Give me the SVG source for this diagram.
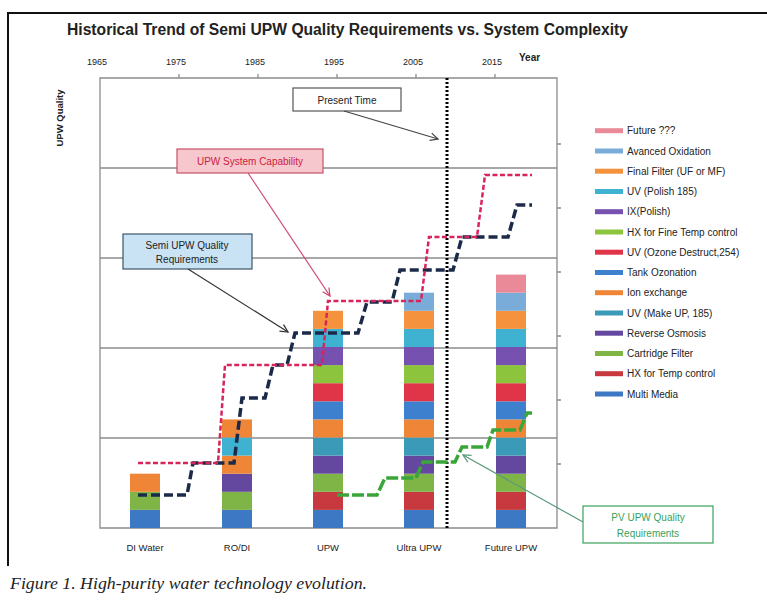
<svg xmlns="http://www.w3.org/2000/svg" width="767" height="602" viewBox="0 0 767 602">
<defs>
<style>
text{font-family:"Liberation Sans",Arial,sans-serif;fill:#222}
.yr{font-size:9px;text-anchor:middle}
.cat{font-size:9.5px;text-anchor:middle}
.lg{font-size:10px;dominant-baseline:central}
.grid{stroke:#8c8c8c;stroke-width:1.3;fill:none}
.c0{fill:#3c78c3}.c1{fill:#c8393f}.c2{fill:#7fb446}.c3{fill:#6448a0}.c4{fill:#3a9ab8}.c5{fill:#ef8637}.c6{fill:#3d80cd}.c7{fill:#e03448}.c8{fill:#8cc43e}.c9{fill:#7651b0}.c10{fill:#3eb2d0}.c11{fill:#f5923e}.c12{fill:#79acd8}.c13{fill:#ea8a98}
</style>
<marker id="ahG" viewBox="0 0 10 10" refX="9" refY="5" markerWidth="8" markerHeight="8" orient="auto"><path d="M1,1 L9,5 L1,9" fill="none" stroke="#444" stroke-width="1.3"/></marker>
<marker id="ahR" viewBox="0 0 10 10" refX="9" refY="5" markerWidth="8" markerHeight="8" orient="auto"><path d="M1,1 L9,5 L1,9" fill="none" stroke="#d04a70" stroke-width="1.3"/></marker>
<marker id="ahD" viewBox="0 0 10 10" refX="9" refY="5" markerWidth="8" markerHeight="8" orient="auto"><path d="M1,1 L9,5 L1,9" fill="none" stroke="#333" stroke-width="1.3"/></marker>
<marker id="ahV" viewBox="0 0 10 10" refX="9" refY="5" markerWidth="8" markerHeight="8" orient="auto"><path d="M1,1 L9,5 L1,9" fill="none" stroke="#5a9a7a" stroke-width="1.3"/></marker>
</defs>
<rect width="767" height="602" fill="#fff"/>
<!-- outer frame -->
<path d="M8,566 V13 H767" fill="none" stroke="#111" stroke-width="2"/>
<text x="67" y="35" font-size="16" font-weight="bold" textLength="561" lengthAdjust="spacingAndGlyphs">Historical Trend of  Semi UPW  Quality  Requirements vs. System Complexity</text>
<!-- axes -->
<g id="axes">
<text class="yr" x="97" y="65">1965</text>
<text class="yr" x="176" y="65">1975</text>
<text class="yr" x="255" y="65">1985</text>
<text class="yr" x="334" y="65">1995</text>
<text class="yr" x="413" y="65">2005</text>
<text class="yr" x="492" y="65">2015</text>
<text x="519" y="61" font-size="10" font-weight="bold">Year</text>
<text transform="translate(63,118) rotate(-90)" font-size="9.5" font-weight="bold" text-anchor="middle">UPW Quality</text>
<path class="grid" d="M100,78 H557 V528 H100 Z M100,168 H557 M100,258 H557 M100,348 H557 M100,438 H557"/>
<path class="grid" d="M179,74 V78 M258,74 V78 M337,74 V78 M416,74 V78 M495,74 V78 M557,464 H561 M557,400 H561 M557,336 H561 M557,272 H561 M557,208 H561 M557,144 H561"/>
</g>
<!-- bars -->
<g id="bar-di-water">
<rect class="c0" x="130" y="509.9" width="30" height="18.1"/>
<rect class="c2" x="130" y="491.8" width="30" height="18.1"/>
<rect class="c5" x="130" y="473.7" width="30" height="18.1"/>
<text class="cat" x="145" y="551">DI Water</text>
</g>
<g id="bar-ro-di">
<rect class="c0" x="222" y="509.9" width="30" height="18.1"/>
<rect class="c2" x="222" y="491.8" width="30" height="18.1"/>
<rect class="c3" x="222" y="473.7" width="30" height="18.1"/>
<rect class="c5" x="222" y="455.6" width="30" height="18.1"/>
<rect class="c10" x="222" y="437.5" width="30" height="18.1"/>
<rect class="c5" x="222" y="419.4" width="30" height="18.1"/>
<text class="cat" x="237" y="551">RO/DI</text>
</g>
<g id="bar-upw">
<rect class="c0" x="313" y="509.9" width="30" height="18.1"/>
<rect class="c1" x="313" y="491.8" width="30" height="18.1"/>
<rect class="c2" x="313" y="473.7" width="30" height="18.1"/>
<rect class="c3" x="313" y="455.6" width="30" height="18.1"/>
<rect class="c4" x="313" y="437.5" width="30" height="18.1"/>
<rect class="c5" x="313" y="419.4" width="30" height="18.1"/>
<rect class="c6" x="313" y="401.3" width="30" height="18.1"/>
<rect class="c7" x="313" y="383.2" width="30" height="18.1"/>
<rect class="c8" x="313" y="365.1" width="30" height="18.1"/>
<rect class="c9" x="313" y="347" width="30" height="18.1"/>
<rect class="c10" x="313" y="328.9" width="30" height="18.1"/>
<rect class="c11" x="313" y="310.8" width="30" height="18.1"/>
<text class="cat" x="328" y="551">UPW</text>
</g>
<g id="bar-ultra-upw">
<rect class="c0" x="404" y="509.9" width="30" height="18.1"/>
<rect class="c1" x="404" y="491.8" width="30" height="18.1"/>
<rect class="c2" x="404" y="473.7" width="30" height="18.1"/>
<rect class="c3" x="404" y="455.6" width="30" height="18.1"/>
<rect class="c4" x="404" y="437.5" width="30" height="18.1"/>
<rect class="c5" x="404" y="419.4" width="30" height="18.1"/>
<rect class="c6" x="404" y="401.3" width="30" height="18.1"/>
<rect class="c7" x="404" y="383.2" width="30" height="18.1"/>
<rect class="c8" x="404" y="365.1" width="30" height="18.1"/>
<rect class="c9" x="404" y="347" width="30" height="18.1"/>
<rect class="c10" x="404" y="328.9" width="30" height="18.1"/>
<rect class="c11" x="404" y="310.8" width="30" height="18.1"/>
<rect class="c12" x="404" y="292.7" width="30" height="18.1"/>
<text class="cat" x="419" y="551">Ultra UPW</text>
</g>
<g id="bar-future-upw">
<rect class="c0" x="496" y="509.9" width="30" height="18.1"/>
<rect class="c1" x="496" y="491.8" width="30" height="18.1"/>
<rect class="c2" x="496" y="473.7" width="30" height="18.1"/>
<rect class="c3" x="496" y="455.6" width="30" height="18.1"/>
<rect class="c4" x="496" y="437.5" width="30" height="18.1"/>
<rect class="c5" x="496" y="419.4" width="30" height="18.1"/>
<rect class="c6" x="496" y="401.3" width="30" height="18.1"/>
<rect class="c7" x="496" y="383.2" width="30" height="18.1"/>
<rect class="c8" x="496" y="365.1" width="30" height="18.1"/>
<rect class="c9" x="496" y="347" width="30" height="18.1"/>
<rect class="c10" x="496" y="328.9" width="30" height="18.1"/>
<rect class="c11" x="496" y="310.8" width="30" height="18.1"/>
<rect class="c12" x="496" y="292.7" width="30" height="18.1"/>
<rect class="c13" x="496" y="274.6" width="30" height="18.1"/>
<text class="cat" x="511" y="551">Future UPW</text>
</g>
<!-- present time line -->
<line id="present-line" x1="447" y1="78" x2="447" y2="528" stroke="#000" stroke-width="3" stroke-dasharray="2 2"/>
<!-- trend lines -->
<g id="trend-lines" fill="none">
<path id="semi-upw-line" d="M138,495 H187 L193,463 H234 L242,398 H265 L273,365 H287 L295,333 H358 L367,302 H392 L400,270 H453 L462,237 H508 L517,205 H532" stroke="#1c2a4a" stroke-width="3.5" stroke-dasharray="9 4"/>
<path id="capability-line" d="M138,463 H218 L225,365 H322 L328,301 H421 L429,237 H477 L485,175 H532" stroke="#d8245a" stroke-width="2.5" stroke-dasharray="5 2.5"/>
<path id="pv-line" d="M337,495 H377 L385,478 H416 L423,462 H455 L462,447 H487 L493,430 H520 L527,413 H532" stroke="#3aa63a" stroke-width="3.5" stroke-dasharray="12 3"/>
</g>
<!-- callout boxes -->
<g id="present-time">
<rect x="293" y="88" width="108" height="23" fill="#fff" stroke="#555" stroke-width="1.2"/>
<text x="347" y="104" font-size="10" text-anchor="middle">Present Time</text>
</g>
<g id="upw-system-capability">
<rect x="177" y="149" width="146" height="24" fill="#f6c8cd" stroke="#c85068" stroke-width="1.2"/>
<text x="250" y="165" font-size="10" text-anchor="middle" style="fill:#d01a40">UPW System Capability</text>
</g>
<g id="semi-upw-quality">
<rect x="123" y="234" width="129" height="35" fill="#c9e2f4" stroke="#3d5567" stroke-width="1.2"/>
<text x="187" y="249" font-size="10" text-anchor="middle">Semi UPW Quality</text>
<text x="187" y="263" font-size="10" text-anchor="middle">Requirements</text>
</g>
<g id="pv-upw-quality">
<rect x="583" y="506" width="130" height="37" fill="#fff" stroke="#3aa15a" stroke-width="1.2"/>
<text x="648" y="521" font-size="10" text-anchor="middle" style="fill:#3aa15a">PV UPW Quality</text>
<text x="648" y="537" font-size="10" text-anchor="middle" style="fill:#3aa15a">Requirements</text>
</g>
<!-- connectors -->
<g id="connectors" fill="none" stroke-width="1.2">
<line x1="344" y1="111" x2="438" y2="139" stroke="#444" marker-end="url(#ahG)"/>
<line x1="248" y1="173" x2="330" y2="296" stroke="#d04a70" marker-end="url(#ahR)"/>
<line x1="188" y1="269" x2="288" y2="332" stroke="#333" marker-end="url(#ahD)"/>
<line x1="583" y1="522" x2="463" y2="455" stroke="#5a9a7a" marker-end="url(#ahV)"/>
</g>
<!-- legend -->
<g id="legend">
<rect class="c13" x="595" y="128.2" width="28" height="5"/><text class="lg" x="627" y="130.7">Future ???</text>
<rect class="c12" x="595" y="148.5" width="28" height="5"/><text class="lg" x="627" y="151">Avanced Oxidation</text>
<rect class="c11" x="595" y="168.7" width="28" height="5"/><text class="lg" x="627" y="171.2">Final Filter (UF or MF)</text>
<rect class="c10" x="595" y="189" width="28" height="5"/><text class="lg" x="627" y="191.5">UV (Polish 185)</text>
<rect class="c9" x="595" y="209.2" width="28" height="5"/><text class="lg" x="627" y="211.7">IX(Polish)</text>
<rect class="c8" x="595" y="229.5" width="28" height="5"/><text class="lg" x="627" y="232">HX for Fine Temp control</text>
<rect class="c7" x="595" y="249.7" width="28" height="5"/><text class="lg" x="627" y="252.2">UV (Ozone Destruct,254)</text>
<rect class="c6" x="595" y="270" width="28" height="5"/><text class="lg" x="627" y="272.5">Tank Ozonation</text>
<rect class="c5" x="595" y="290.2" width="28" height="5"/><text class="lg" x="627" y="292.7">Ion exchange</text>
<rect class="c4" x="595" y="310.5" width="28" height="5"/><text class="lg" x="627" y="313">UV (Make UP, 185)</text>
<rect class="c3" x="595" y="330.7" width="28" height="5"/><text class="lg" x="627" y="333.2">Reverse Osmosis</text>
<rect class="c2" x="595" y="351" width="28" height="5"/><text class="lg" x="627" y="353.5">Cartridge Filter</text>
<rect class="c1" x="595" y="371.2" width="28" height="5"/><text class="lg" x="627" y="373.7">HX for Temp control</text>
<rect class="c0" x="595" y="391.5" width="28" height="5"/><text class="lg" x="627" y="394">Multi Media</text>
</g>
<text x="10" y="589" font-size="17" font-style="italic" textLength="357" lengthAdjust="spacingAndGlyphs" style="font-family:'Liberation Serif','Times New Roman',serif">Figure 1.  High-purity water technology evolution.</text>
</svg>
